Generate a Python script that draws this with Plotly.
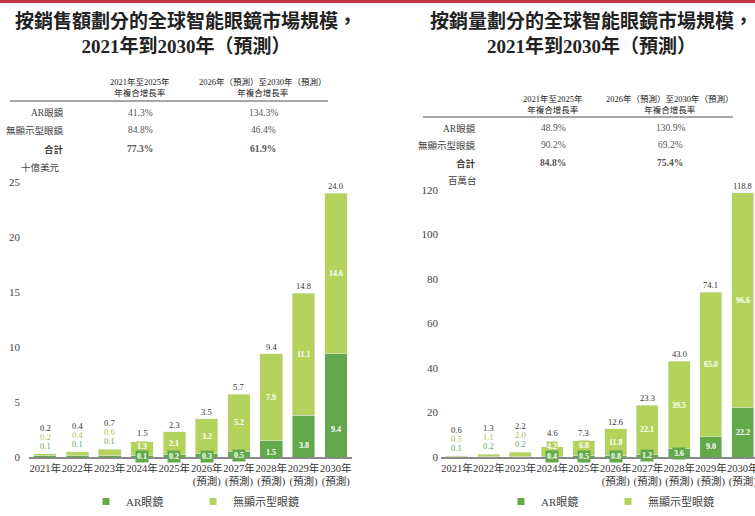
import plotly.graph_objects as go

# ---------------- data ----------------
years = ["2021年", "2022年", "2023年", "2024年", "2025年",
         "2026年<br>(預測)", "2027年<br>(預測)", "2028年<br>(預測)",
         "2029年<br>(預測)", "2030年<br>(預測)"]
series_names = ["AR眼鏡", "無顯示型眼鏡"]

sales_ar = [0.1, 0.1, 0.1, 0.1, 0.2, 0.3, 0.5, 1.5, 3.8, 9.4]
sales_nd = [0.2, 0.4, 0.6, 1.3, 2.1, 3.2, 5.2, 7.9, 11.1, 14.6]
sales_total = [0.2, 0.4, 0.7, 1.5, 2.3, 3.5, 5.7, 9.4, 14.8, 24.0]

vol_ar = [0.1, 0.2, 0.2, 0.4, 0.5, 0.8, 1.2, 3.6, 9.0, 22.2]
vol_nd = [0.5, 1.1, 2.0, 4.2, 6.8, 11.8, 22.1, 39.5, 65.0, 96.6]
vol_total = [0.6, 1.3, 2.2, 4.6, 7.3, 12.6, 23.3, 43.0, 74.1, 118.8]

cagr_periods = ["2021年至2025年<br>年複合增長率",
                "2026年（預測）至2030年（預測）<br>年複合增長率"]
cagr_rows = ["AR眼鏡", "無顯示型眼鏡", "合計"]
sales_cagr = [["41.3%", "134.3%"], ["84.8%", "46.4%"], ["77.3%", "61.9%"]]
vol_cagr = [["48.9%", "130.9%"], ["90.2%", "69.2%"], ["84.8%", "75.4%"]]

sales_title = "按銷售額劃分的全球智能眼鏡市場規模，<br>2021年到2030年（預測）"
vol_title = "按銷量劃分的全球智能眼鏡市場規模，<br>2021年到2030年（預測）"
sales_unit = "十億美元"
vol_unit = "百萬台"
sales_ticks = [0, 5, 10, 15, 20, 25]
vol_ticks = [0, 20, 40, 60, 80, 100, 120]

# ---------------- style ----------------
W, H = 755, 516
AR_COLOR = "#63a94b"
ND_COLOR = "#b4d35c"
ND_TEXT = "#a3c548"
FONT = "Liberation Serif, Noto Sans CJK TC, serif"
TXT = "#333333"


def px(x):
    return x / W


def py(y):
    return 1 - y / H


fig = go.Figure()
annotations = []
shapes = []


def add_chart(ax, ay, ar, nd, total, cfg):
    xref = "x" if ax == "xaxis" else "x2"
    yref = "y" if ay == "yaxis" else "y2"
    ppu = (cfg["y0"] - cfg["ytop"]) / (cfg["yrange"][1] - cfg["yrange"][0])
    fig.add_trace(go.Bar(x=years, y=ar, name=series_names[0], marker_color=AR_COLOR,
                         width=0.7, xaxis=xref, yaxis=yref, showlegend=False))
    fig.add_trace(go.Bar(x=years, y=nd, name=series_names[1], marker_color=ND_COLOR,
                         width=0.7, xaxis=xref, yaxis=yref, showlegend=False))
    # legend entries
    for nm, col in zip(series_names, [AR_COLOR, ND_COLOR]):
        fig.add_trace(go.Scatter(x=[None], y=[None], mode="markers", name=nm,
                                 marker=dict(symbol="square", size=7, color=col),
                                 xaxis=xref, yaxis=yref, legend=cfg["legend"]))
    # bar labels
    for i, cat in enumerate(years):
        top = ar[i] + nd[i]
        if i < 3:
            for txt, col, sh in [(f"{ar[i]:.1f}", AR_COLOR, 8),
                                 (f"{nd[i]:.1f}", ND_TEXT, 17),
                                 (f"{total[i]:.1f}", TXT, 26)]:
                annotations.append(dict(x=cat, y=top, xref=xref, yref=yref, text=txt,
                                        showarrow=False, yshift=sh, xanchor="center",
                                        font=dict(family=FONT, size=8.5, color=col)))
        else:
            mid = ar[i] + nd[i] / 2
            lift = max(0.0, 11 - mid * ppu)
            nd_top_px = mid * ppu + lift + 5
            tot_shift = max(0.0, nd_top_px - top * ppu + 1)
            annotations.append(dict(x=cat, y=top, xref=xref, yref=yref,
                                    text=f"{total[i]:.1f}", showarrow=False,
                                    yanchor="bottom", yshift=tot_shift, xanchor="center",
                                    font=dict(family=FONT, size=8.5, color=TXT)))
            annotations.append(dict(x=cat, y=mid, xref=xref, yref=yref, yshift=lift,
                                    text=f"<b>{nd[i]:.1f}</b>", showarrow=False,
                                    bgcolor=ND_COLOR, borderpad=0, xanchor="center",
                                    font=dict(family=FONT, size=8, color="white")))
            annotations.append(dict(x=cat, y=ar[i] * cfg["ar_frac"], xref=xref, yref=yref,
                                    text=f"<b>{ar[i]:.1f}</b>", showarrow=False,
                                    bgcolor=AR_COLOR, borderpad=1, xanchor="center",
                                    font=dict(family=FONT, size=8, color="white")))
    # axes
    fig.layout[ax] = dict(domain=[px(cfg["x0"]), px(cfg["x1"])], range=cfg["xrange"],
                          type="category", showline=True, linecolor="#8a8a8a", linewidth=2,
                          tickangle=0, ticks="", showgrid=False, zeroline=False,
                          ticklabelstandoff=0, automargin=False,
                          tickfont=dict(family=FONT, size=10.5, color=TXT),
                          anchor=yref, fixedrange=True)
    fig.layout[ay] = dict(domain=[py(cfg["y0"]), py(cfg["ytop"])], range=cfg["yrange"],
                          tickvals=cfg["yticks"], showgrid=False, zeroline=False,
                          showline=False, ticks="", ticklabelstandoff=cfg["ystand"],
                          automargin=False,
                          tickfont=dict(family=FONT, size=11, color="#444444"),
                          anchor=xref, fixedrange=True)
    # title
    annotations.append(dict(x=px(cfg["title_x"]), y=py(cfg["title_y"]), xref="paper",
                            yref="paper", text="<b>" + cfg["title"] + "</b>",
                            showarrow=False, xanchor="center", yanchor="middle",
                            font=dict(family=FONT, size=19, color="#222222")))
    # CAGR table
    for j, head in enumerate(cagr_periods):
        annotations.append(dict(x=px(cfg["cols"][j]), y=py(cfg["head_y"]), xref="paper",
                                yref="paper", text=head, showarrow=False,
                                xanchor="center", yanchor="middle",
                                font=dict(family=FONT, size=8.5, color="#222222")))
    shapes.append(dict(type="line", xref="paper", yref="paper", x0=px(cfg["line_x0"]),
                       x1=px(cfg["line_x1"]), y0=py(cfg["line_y"]), y1=py(cfg["line_y"]),
                       line=dict(color="#8a8a8a", width=1.5)))
    for r, lab in enumerate(cagr_rows):
        bold = r == 2
        t = (lambda s: f"<b>{s}</b>") if bold else (lambda s: s)
        yy = py(cfg["rows_y"][r])
        annotations.append(dict(x=px(cfg["label_x"]), y=yy, xref="paper", yref="paper",
                                text=t(lab), showarrow=False, xanchor="right",
                                yanchor="middle",
                                font=dict(family=FONT, size=9.5, color="#444444")))
        for j in range(2):
            annotations.append(dict(x=px(cfg["cols"][j]), y=yy, xref="paper",
                                    yref="paper", text=t(cfg["cagr"][r][j]),
                                    showarrow=False, xanchor="center", yanchor="middle",
                                    font=dict(family=FONT, size=9.5, color="#555555")))
    annotations.append(dict(x=px(cfg["unit_x"]), y=py(cfg["unit_y"]), xref="paper",
                            yref="paper", text=cfg["unit"], showarrow=False,
                            xanchor="center", yanchor="middle",
                            font=dict(family=FONT, size=9.5, color="#444444")))
    fig.layout[cfg["legend"]] = dict(orientation="h", x=px(cfg["leg_x"]), y=0.0,
                                     xanchor="left", yanchor="bottom",
                                     traceorder="normal",
                                     font=dict(family=FONT, size=11, color="#444444"),
                                     bgcolor="rgba(0,0,0,0)", entrywidth=62,
                                     entrywidthmode="pixels")


add_chart("xaxis", "yaxis", sales_ar, sales_nd, sales_total, dict(
    x0=29, x1=352, xrange=[-0.5, 9.5], y0=457, ytop=182, yrange=[0, 25],
    yticks=sales_ticks, ystand=8, title=sales_title, title_x=186, title_y=33,
    cols=[140, 263], head_y=88, line_x0=10, line_x1=328, line_y=101,
    rows_y=[113, 130, 149], label_x=66, cagr=sales_cagr, unit=sales_unit,
    unit_x=40, unit_y=167, legend="legend", leg_x=86, ar_frac=0.27))

add_chart("xaxis2", "yaxis2", vol_ar, vol_nd, vol_total, dict(
    x0=441, x1=755, xrange=[-0.5, -0.5 + 314 / 31.75], y0=457, ytop=190,
    yrange=[0, 120], yticks=vol_ticks, ystand=2, title=vol_title, title_x=591,
    title_y=33, cols=[553, 670], head_y=104, line_x0=423, line_x1=733, line_y=117,
    rows_y=[128, 145, 163], label_x=478, cagr=vol_cagr, unit=vol_unit,
    unit_x=462, unit_y=181, legend="legend2", leg_x=501, ar_frac=0.5))

shapes.append(dict(type="rect", xref="paper", yref="paper", x0=0, x1=1, y0=py(3), y1=1,
                   fillcolor="#c0353f", line=dict(width=0), layer="above"))

fig.update_layout(width=W, height=H, autosize=False, barmode="stack",
                  margin=dict(l=0, r=0, t=0, b=0, pad=0),
                  paper_bgcolor="white", plot_bgcolor="white",
                  annotations=annotations, shapes=shapes, bargap=0.3)

fig.write_html("out.html")
